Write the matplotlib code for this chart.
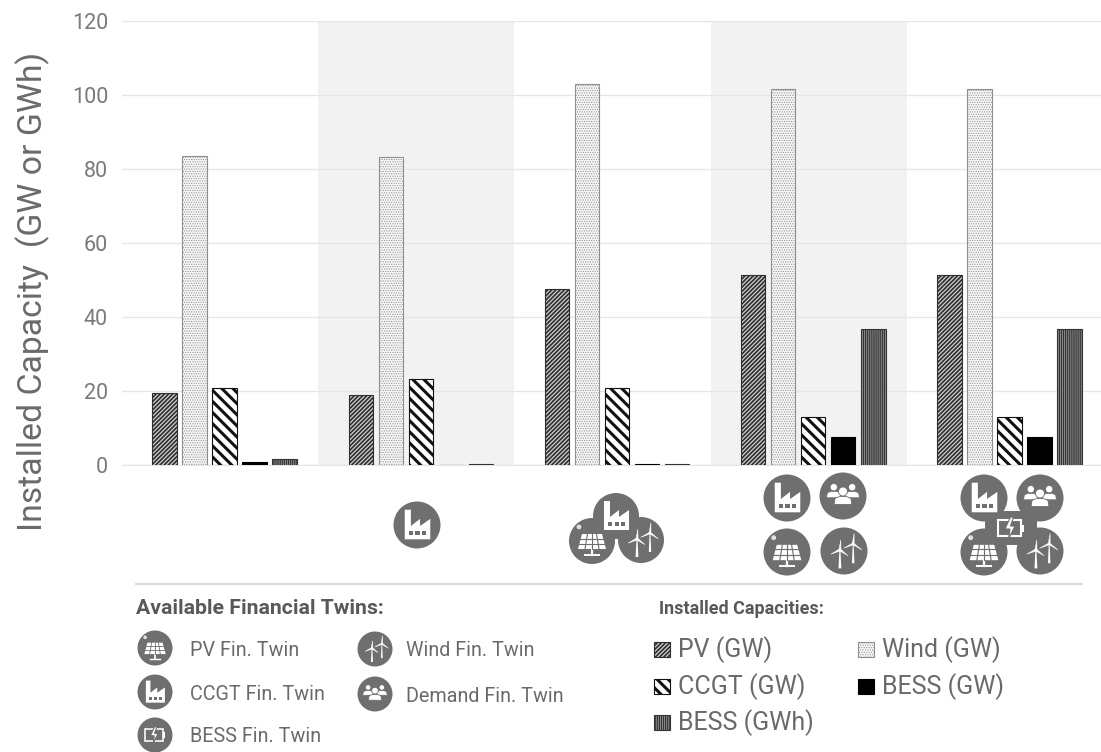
import matplotlib
matplotlib.use('Agg')
import matplotlib.pyplot as plt
from matplotlib.patches import Circle, Polygon, Rectangle
import numpy as np

## data
pv_gw = [19.5, 19.0, 47.6, 51.4, 51.4]
wind_gw = [83.6, 83.3, 103.0, 101.7, 101.7]
ccgt_gw = [20.8, 23.3, 20.8, 13.0, 13.0]
bess_gw = [0.7, 0.0, 0.15, 7.6, 7.6]
bess_gwh = [1.5, 0.3, 0.3, 36.7, 36.7]
y_ticks = [0, 20, 40, 60, 80, 100, 120]

W, H = 1101, 752
ICON_GRAY = '#6f6f6f'
TEXT_GRAY = '#6a6a6a'

plt.rcParams['font.family'] = ['Roboto', 'DejaVu Sans']

# fill, hatch, edge, hatch width for each series
styles = {
	'pv': ('#d0d0d0', '////////', '#2e2e2e', 1.2),
	'wind': ('#f6f6f6', '.......', '#8f8f8f', 0.5),
	'ccgt': ('white', '\\\\\\', '#111111', 2.2),
	'bess': ('black', None, 'black', 0.5),
	'gwh': ('#9a9a9a', '||||||||', '#333333', 0.9),
}


def hatched(ax, style_name, **kwargs):
	face, hatch, edge, hatch_lw = styles[style_name]
	with plt.rc_context({'hatch.linewidth': hatch_lw}):
		return ax.bar(color=face, hatch=hatch, edgecolor=edge, linewidth=0.8, **kwargs)


## icons, drawn around (cx, cy) in pixels
def factory(ov, cx, cy, r):
	s = r / 23.0
	pts = [(-12, 14), (-12, -15), (-6, -15), (-6, 1), (3, -6), (3, 1), (13, -6), (13, 14)]
	ov.add_patch(Polygon([(cx + x * s, cy + y * s) for x, y in pts], fc='white', ec='none', zorder=6))
	for dx in (-6, 0.5, 7):
		ov.add_patch(Rectangle((cx + (dx - 2) * s, cy + 6 * s), 4 * s, 4 * s, fc=ICON_GRAY, ec='none', zorder=7))


def solar(ov, cx, cy, r):
	s = r / 23.0
	pts = [(-10, -7), (10, -7), (14, 8), (-14, 8)]
	ov.add_patch(Polygon([(cx + x * s, cy + y * s) for x, y in pts], fc='white', ec='none', zorder=6))
	for t in (-2.5, 3):
		ov.plot([cx - 14 * s, cx + 14 * s], [cy + t * s, cy + t * s], color=ICON_GRAY, lw=0.8 * s, zorder=7)
	for b, t in ((-7, -4.5), (0, 0), (7, 4.5)):
		ov.plot([cx + b * s, cx + t * s], [cy + 8 * s, cy - 7 * s], color=ICON_GRAY, lw=0.8 * s, zorder=7)
	ov.plot([cx, cx], [cy + 8 * s, cy + 14 * s], color='white', lw=1.6 * s, zorder=6)
	ov.plot([cx - 7 * s, cx + 7 * s], [cy + 14 * s, cy + 14 * s], color='white', lw=1.4 * s, zorder=6)
	ov.add_patch(Circle((cx - 13 * s, cy - 14 * s), 2.4 * s, fc='#e0e0e0', ec='none', zorder=6))


def turbine(ov, x, y, h, s):
	ov.add_patch(Polygon([(x - 1.4 * s, y + h), (x + 1.4 * s, y + h), (x + 0.5 * s, y), (x - 0.5 * s, y)], fc='white', ec='none', zorder=6))
	blade = h * 0.55
	for ang in (85, 205, 325):
		a = np.radians(ang)
		tip = (x + blade * np.cos(a), y - blade * np.sin(a))
		nx, ny = -np.sin(a) * 1.1 * s, -np.cos(a) * 1.1 * s
		ov.add_patch(Polygon([(x + nx, y + ny), (x - nx, y - ny), tip], fc='white', ec='white', lw=0.3, zorder=6))


def wind(ov, cx, cy, r):
	s = r / 23.0
	turbine(ov, cx - 4 * s, cy - 1 * s, 18 * s, s)
	turbine(ov, cx + 9 * s, cy - 7 * s, 19 * s, s * 0.85)


def demand(ov, cx, cy, r):
	s = r / 23.0
	for dx, dy, k in ((-9, -5, 0.9), (9, -5, 0.9), (0, 0, 1.1)):
		px, py = cx + dx * s, cy + dy * s
		ov.add_patch(Circle((px, py - 4 * k * s), 4 * k * s, fc='white', ec=ICON_GRAY, lw=0.6, zorder=6 + k))
		body = [(px - 8 * k * s, py + 7.5 * k * s), (px - 7 * k * s, py + 2 * k * s), (px - 3 * k * s, py + 0.5 * k * s),
			(px + 3 * k * s, py + 0.5 * k * s), (px + 7 * k * s, py + 2 * k * s), (px + 8 * k * s, py + 7.5 * k * s)]
		ov.add_patch(Polygon(body, fc='white', ec=ICON_GRAY, lw=0.6, zorder=6 + k))


def battery(ov, cx, cy, r):
	s = r / 23.0
	ov.add_patch(Rectangle((cx - 13 * s, cy - 8 * s), 23 * s, 16 * s, fc='none', ec='white', lw=1.5 * s, zorder=6))
	ov.add_patch(Rectangle((cx + 10 * s, cy - 3.5 * s), 3 * s, 7 * s, fc='white', ec='none', zorder=6))
	bolt = [(-0.5, -11), (-6, 1), (-1, 1), (-2.5, 11), (4, -2), (-0.5, -2), (2.5, -11)]
	ov.add_patch(Polygon([(cx + x * s, cy + y * s) for x, y in bolt], fc='white', ec=ICON_GRAY, lw=0.8, zorder=7))


def icon(ov, kind, cx, cy, r):
	ov.add_patch(Circle((cx, cy), r, fc=ICON_GRAY, ec='none', zorder=5))
	kind(ov, cx, cy, r)


## axes: y=0 at pixel 465, y=120 at pixel 21
fig = plt.figure(figsize=(W / 100, H / 100), dpi=100)
ax = fig.add_axes([122 / W, 1 - 465 / H, (1103 - 122) / W, (465 - 21) / H])

positions = np.arange(5)
bar_w = 0.125
step = 0.153
offset = 0.023
series = [('pv', pv_gw), ('wind', wind_gw), ('ccgt', ccgt_gw), ('bess', bess_gw), ('gwh', bess_gwh)]
for j, (name, values) in enumerate(series):
	hatched(ax, name, x=positions + offset + (j - 2) * step, height=values, width=bar_w, zorder=3)

for band in (1, 3):
	ax.axvspan(band - 0.5, band + 0.5, color='#f2f2f2', lw=0, zorder=0)

ax.set_xlim(-0.5, 4.5)
ax.set_ylim(0, 120)
ax.set_yticks(y_ticks)
ax.set_xticks([])
ax.grid(True, axis='y', color='#e6e6e6', linewidth=1, zorder=1)
ax.set_axisbelow(True)
for side in ('top', 'right', 'left'):
	ax.spines[side].set_visible(False)
ax.spines['bottom'].set_color('#e6e6e6')
ax.tick_params(axis='y', length=0, pad=10, labelsize=15.5, labelcolor='#7a7a7a')
ax.patch.set_alpha(0)

fig.text(33 / W, 1 - 291 / H, 'Installed Capacity  (GW or GWh)', rotation=90, ha='center', va='center', fontsize=24.3, color=TEXT_GRAY)

## overlay in pixel coordinates for the icons and the two keys
ov = fig.add_axes([0, 0, 1, 1])
ov.set_xlim(0, W)
ov.set_ylim(H, 0)
ov.axis('off')
ov.patch.set_alpha(0)

icon(ov, factory, 417, 525, 23.5)

icon(ov, factory, 616, 516, 23)
icon(ov, solar, 592, 541, 23)
icon(ov, wind, 641, 540, 23)

icon(ov, factory, 787, 498, 23.5)
icon(ov, demand, 843, 496, 23.5)
icon(ov, solar, 787, 552, 23.5)
icon(ov, wind, 844, 551, 23.5)

icon(ov, factory, 984, 498, 23.5)
icon(ov, demand, 1040, 498, 23.5)
icon(ov, solar, 984, 552, 23.5)
icon(ov, wind, 1040, 551, 23.5)
ov.add_patch(Rectangle((985, 511), 52, 34, fc=ICON_GRAY, ec='none', zorder=5))
battery(ov, 1011, 528, 23)

ov.plot([136, 1082], [584, 584], color='#d9d9d9', lw=1.5)

ov.text(136, 608, 'Available Financial Twins:', fontsize=15.3, fontweight='bold', color='#595959', va='center')
ov.text(659, 609, 'Installed Capacities:', fontsize=13, fontweight='bold', color='#595959', va='center')

twin_key = [
	(solar, 155, 648, 190, 'PV Fin. Twin'),
	(factory, 155, 692, 190, 'CCGT Fin. Twin'),
	(battery, 155, 735, 190, 'BESS Fin. Twin'),
	(wind, 375, 649, 406, 'Wind Fin. Twin'),
	(demand, 375, 694, 406, 'Demand Fin. Twin'),
]
for kind, cx, cy, tx, label in twin_key:
	icon(ov, kind, cx, cy, 17.5)
	ov.text(tx, cy + 2, label, fontsize=14.2, color=TEXT_GRAY, va='center')

capacity_key = [
	('pv', 654, 650, 'PV (GW)'),
	('ccgt', 654, 687, 'CCGT (GW)'),
	('gwh', 654, 723, 'BESS (GWh)'),
	('wind', 858, 650, 'Wind (GW)'),
	('bess', 858, 687, 'BESS (GW)'),
]
for name, sx, sy, label in capacity_key:
	face, hatch, edge, hatch_lw = styles[name]
	with plt.rc_context({'hatch.linewidth': hatch_lw}):
		ov.add_patch(Rectangle((sx, sy - 8), 16, 15, fc=face, hatch=hatch, ec=edge, lw=0.8))
	ov.text(sx + 24, sy, label, fontsize=18, color=TEXT_GRAY, va='center')

fig.savefig('out.png', dpi=100)
